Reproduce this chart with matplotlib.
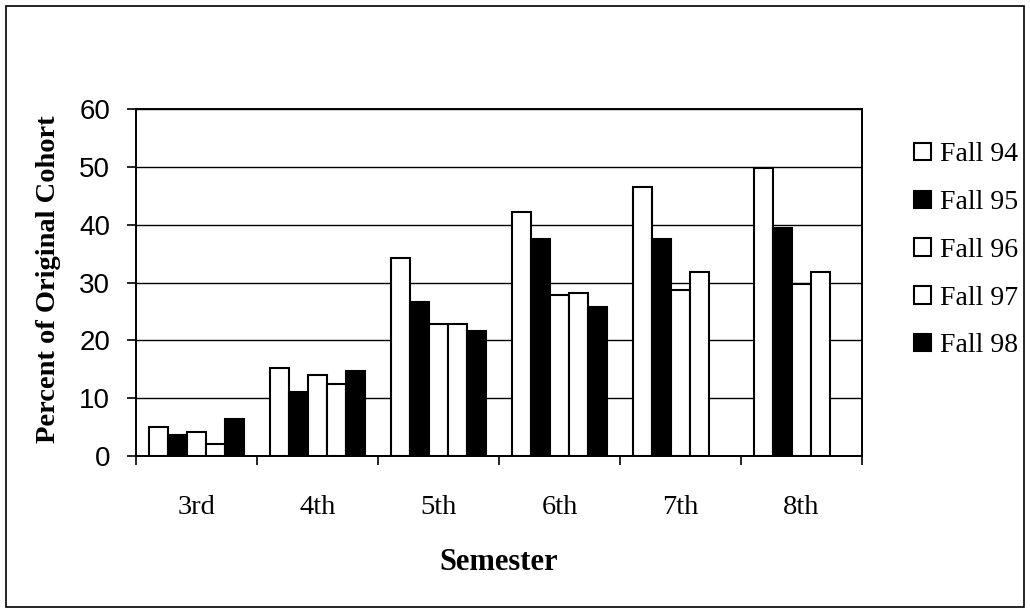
import numpy as np
import matplotlib
matplotlib.use('Agg')
import matplotlib.pyplot as plt
from matplotlib.patches import Rectangle

# semesters and cohort values (percent of original cohort)
semesters = ['3rd', '4th', '5th', '6th', '7th', '8th']
cohorts = ['Fall 94', 'Fall 95', 'Fall 96', 'Fall 97', 'Fall 98']
fall94 = [5.0, 15.3, 34.2, 42.2, 46.6, 49.8]
fall95 = [3.7, 11.1, 26.6, 37.6, 37.6, 39.4]
fall96 = [4.1, 14.0, 22.9, 27.8, 28.7, 29.8]
fall97 = [2.1, 12.4, 22.9, 28.2, 31.8, 31.9]
fall98 = [6.4, 14.7, 21.7, 25.7, np.nan, np.nan]
yticks = [0, 10, 20, 30, 40, 50, 60]

series = [fall94, fall95, fall96, fall97, fall98]
fills = ['white', 'black', 'white', 'white', 'black']

serif = 'Liberation Serif'
sans = 'Liberation Sans'

fig = plt.figure(figsize=(10.3, 6.09), dpi=100)
ax = fig.add_axes([0.132, 0.2512, 0.705, 0.5698])

x = np.arange(len(semesters))
width = 0.157
for i in range(len(series)):
    offset = (i - 2) * width
    ax.bar(x + offset, series[i], width, color=fills[i], edgecolor='black',
           linewidth=1.5, label=cohorts[i], zorder=3)

ax.set_xlim(-0.5, len(semesters) - 0.5)
ax.set_ylim(0, 60)
ax.set_yticks(yticks)
ax.set_yticklabels([str(t) for t in yticks], fontsize=20, fontfamily=sans)
ax.yaxis.grid(True, color='black', linewidth=1.0, zorder=0)

# group separators as ticks, category labels in the middle
ax.set_xticks(np.arange(len(semesters) + 1) - 0.5)
ax.set_xticklabels([])
ax.set_xticks(x, minor=True)
ax.set_xticklabels(semesters, minor=True, fontsize=20.5, fontfamily=serif)
ax.tick_params(axis='x', which='major', length=6.5, width=1.2, direction='out')
ax.tick_params(axis='x', which='minor', length=0, pad=28)
ax.tick_params(axis='y', length=6.5, width=1.2, direction='out', pad=12)

for s in ax.spines.values():
    s.set_linewidth(1.4)
    s.set_color('black')

ax.set_xlabel('Semester', fontsize=22, fontfamily=serif, fontweight='bold')
ax.xaxis.set_label_coords(0.5, -0.265)
ax.set_ylabel('Percent of Original Cohort', fontsize=20.5, fontfamily=serif,
              fontweight='bold', va='center')
ax.yaxis.set_label_coords(-0.121, 0.51)

leg = ax.legend(loc='upper left', bbox_to_anchor=(1.037, 0.976), frameon=False,
                prop={'family': serif, 'size': 20}, handlelength=0.6,
                handleheight=0.6, handletextpad=0.32, labelspacing=0.82)

# outer frame around the whole chart
fig.patches.append(Rectangle((6 / 1030, 1 - 607 / 609), 1018 / 1030, 601 / 609,
                             transform=fig.transFigure, fill=False,
                             edgecolor='black', linewidth=1.2))

fig.savefig('out.png', dpi=100)
